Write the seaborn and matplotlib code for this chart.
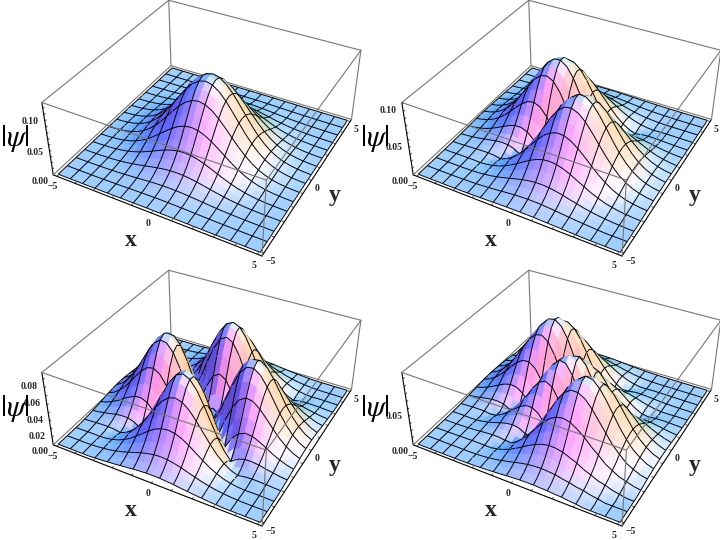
import numpy as np
import seaborn as sns
import matplotlib
matplotlib.use("Agg")
import matplotlib.pyplot as plt
from mpl_toolkits.mplot3d.art3d import Poly3DCollection

# cross sections of the surfaces, read along the two diagonals of the floor
# (one sample every 1/(3*sqrt(2)) units, starting in the middle of the plot)
hump = [1.000, .989, .955, .901, .831, .749, .660, .568, .477, .392, .315,
        .247, .189, .142, .104, .074, .052, .035, .024, .015, .010,
        .006, .004, .002, .001, 0, 0, 0, 0, 0, 0]
two_humps = [0, .248, .479, .678, .834, .939, .993, .997, .957, .885, .790,
             .681, .569, .463, .365, .278, .209, .149, .108, .072, .050,
             .032, .022, .012, .006, 0, 0, 0, 0, 0, 0]
three_humps = [1.000, .943, .778, .526, .216, .117, .440, .720, .935, 1.077, 1.142,
               1.136, 1.070, .968, .839, .696, .564, .433, .336, .236, .175,
               .116, .086, .047, .026, 0, 0, 0, 0, 0, 0]

amps = [.117, .100, .086, .084]
z_tops = [.119, .102, .088, .098]
u_cuts = [hump, hump, two_humps, hump]
v_cuts = [hump, two_humps, two_humps, three_humps]

z_ticks = [[0, .01, .02, .03, .04, .05, .06, .07, .08, .09, .10, .11],
           [0, .01, .02, .03, .04, .05, .06, .07, .08, .09, .10],
           [0, .01, .02, .03, .04, .05, .06, .07, .08],
           [0, .01, .02, .03, .04, .05, .06, .07, .08, .09]]
z_named = [[0, .05, .10], [0, .05, .10], [0, .02, .04, .06, .08], [0, .05]]
xy_ticks = [-5, -4, -3, -2, -1, 0, 1, 2, 3, 4, 5]
xy_named = [-5, 0, 5]

ELEV = 36.0
AZIM = -61.6
ZOOM = 0.687
FOCAL = 0.438 * ZOOM
PAD = 0.2
BOX_Z = .385

ambient = np.array([.38, .30, .42])
lights = [(np.array([1.5, -.5, 2.0]), np.array([.8, 0, 0])),
          (np.array([1.5, 1.5, 2.0]), np.array([0, .62, 0])),
          (np.array([-.5, 1.5, 2.0]), np.array([0, 0, .72]))]


def camera():
    e, a = np.radians(ELEV), np.radians(AZIM)
    right = np.array([-np.sin(a), np.cos(a), 0])
    up = np.array([-np.sin(e) * np.cos(a), -np.sin(e) * np.sin(a), np.cos(e)])
    back = np.array([np.cos(e) * np.cos(a), np.cos(e) * np.sin(a), np.sin(e)])
    return right, up, back


def surface_values(n):
    z = np.zeros((31, 31))
    for i in range(31):
        for j in range(31):
            z[i, j] = amps[n] * u_cuts[n][abs(i + j - 30)] * v_cuts[n][abs(j - i)]
    return z


def shade(z, z_top):
    step = (1 / 3) / 10
    dz_i, dz_j = np.gradient(z * BOX_Z / z_top, step)
    normal = np.dstack([-dz_i, -dz_j, np.ones_like(z)])
    normal /= np.linalg.norm(normal, axis=2, keepdims=True)
    face = (normal[:-1, :-1] + normal[1:, :-1] + normal[:-1, 1:] + normal[1:, 1:]) / 4
    face /= np.linalg.norm(face, axis=2, keepdims=True)
    right, up, back = camera()
    view = np.dstack([face @ right, face @ up, face @ back])
    colour = np.tile(ambient, view.shape[:2] + (1,))
    for pos, rgb in lights:
        pos = pos / np.linalg.norm(pos)
        half = pos + np.array([0, 0, 1.0])
        half /= np.linalg.norm(half)
        colour = colour + np.clip(view @ pos, 0, None)[..., None] * rgb
        colour = colour + .15 * np.clip(view @ half, 0, None)[..., None] ** 12 * rgb
    return np.clip(colour, 0, 1)


def draw_surface(ax, n):
    grid = np.arange(-15, 16) / 3
    z = surface_values(n)
    colour = shade(z, z_tops[n])
    polys, faces = [], []
    for i in range(30):
        for j in range(30):
            polys.append([(grid[i], grid[j], z[i, j]), (grid[i + 1], grid[j], z[i + 1, j]),
                          (grid[i + 1], grid[j + 1], z[i + 1, j + 1]), (grid[i], grid[j + 1], z[i, j + 1])])
            faces.append(tuple(colour[i, j]) + (1,))
    # mesh lines go in the same collection, nudged to the viewer so they sort on top
    _, _, back = camera()
    nudge = back * np.array([10, 10, z_tops[n] / BOX_Z]) * .03
    for a in range(0, 31, 2):
        for b in range(30):
            p = np.array([grid[a], grid[b], z[a, b]]) + nudge
            q = np.array([grid[a], grid[b + 1], z[a, b + 1]]) + nudge
            polys.append([p, q, q, p])
            faces.append((0, 0, 0, 1))
            p = np.array([grid[b], grid[a], z[b, a]]) + nudge
            q = np.array([grid[b + 1], grid[a], z[b + 1, a]]) + nudge
            polys.append([p, q, q, p])
            faces.append((0, 0, 0, 1))
    coll = Poly3DCollection(polys, zsort="average", linewidths=.7)
    coll.set_facecolor(faces)
    coll.set_edgecolor(faces)
    coll.set_zorder(2)
    ax.add_collection3d(coll)


def draw_box(ax, n):
    lo, hi = -5 - PAD, 5 + PAD
    top = z_tops[n]
    grey = dict(color="#777777", lw=.8)
    # behind the surface
    ax.plot([lo, lo], [hi, hi], [0, top], zorder=1, **grey)
    ax.plot([lo, hi], [hi, hi], [top, top], zorder=1, **grey)
    ax.plot([lo, lo], [lo, hi], [top, top], zorder=1, **grey)
    ax.plot([hi, hi], [hi, hi], [0, top], zorder=1, **grey)
    ax.plot([lo, lo], [hi, lo], [0, 0], zorder=1, **grey)
    ax.plot([lo, hi], [hi, hi], [0, 0], zorder=1, **grey)
    # in front of it
    ax.plot([lo, hi], [lo, lo], [top, top], zorder=3, **grey)
    ax.plot([hi, hi], [lo, hi], [top, top], zorder=3, **grey)
    ax.plot([hi, hi], [lo, lo], [0, top], zorder=3, **grey)


def style_axes(ax, n):
    lo, hi = -5 - PAD, 5 + PAD
    ax.computed_zorder = False
    ax.patch.set_alpha(0)
    ax.set_proj_type("persp", focal_length=FOCAL)
    ax.view_init(elev=ELEV, azim=AZIM)
    ax.set_box_aspect((1, 1, BOX_Z), zoom=ZOOM)
    ax.set_xlim(lo, hi)
    ax.set_ylim(lo, hi)
    ax.set_zlim(0, z_tops[n])
    ax.grid(False)
    for axis in (ax.xaxis, ax.yaxis, ax.zaxis):
        axis.set_pane_color((1, 1, 1, 0))
        axis.pane.set_edgecolor((1, 1, 1, 0))
        axis.line.set_color("black")
        axis.line.set_linewidth(.8)
        axis._axinfo["tick"].update(inward_factor=.0, outward_factor=.12, linewidth={True: .6, False: .6})
        axis._axinfo["tick"]["color"] = "black"
    names = [("\u2212" + str(-t) if t < 0 else str(t)) if t in xy_named else "" for t in xy_ticks]
    ax.set_xticks(xy_ticks, names, fontsize=7, family="Liberation Serif", weight="bold")
    ax.set_yticks(xy_ticks, names, fontsize=7, family="Liberation Serif", weight="bold")
    znames = ["%.2f" % t if t in z_named[n] else "" for t in z_ticks[n]]
    ax.set_zticks(z_ticks[n], znames, fontsize=7, family="Liberation Serif", weight="bold")
    ax.zaxis.set_ticks_position("lower")
    ax.tick_params(axis="x", pad=-3)
    ax.tick_params(axis="y", pad=-3)
    ax.tick_params(axis="z", pad=-1)


sns.set_theme(style="white")
plt.rcParams["mathtext.fontset"] = "stix"
fig = plt.figure(figsize=(7.2, 5.4), dpi=100)
side = 470
for n in range(4):
    col, row = n % 2, n // 2
    left = (col * 360 + 203 - side / 2) / 720
    bottom = 1 - (row * 270 + 118 + side / 2) / 540
    ax = fig.add_axes([left, bottom, side / 720, side / 540], projection="3d")
    style_axes(ax, n)
    draw_box(ax, n)
    draw_surface(ax, n)
    fig.text((col * 360 + 131) / 720, 1 - (row * 270 + 240) / 540, "x", fontsize=17,
             family="Liberation Serif", weight="bold", ha="center", va="center")
    fig.text((col * 360 + 335) / 720, 1 - (row * 270 + 196) / 540, "y", fontsize=17,
             family="Liberation Serif", weight="bold", ha="center", va="center")
    fig.text((col * 360 + 15) / 720, 1 - (row * 270 + 138) / 540, r"$|\psi|$", fontsize=22,
             ha="center", va="center", color="black")

fig.savefig("out.png", dpi=100)
